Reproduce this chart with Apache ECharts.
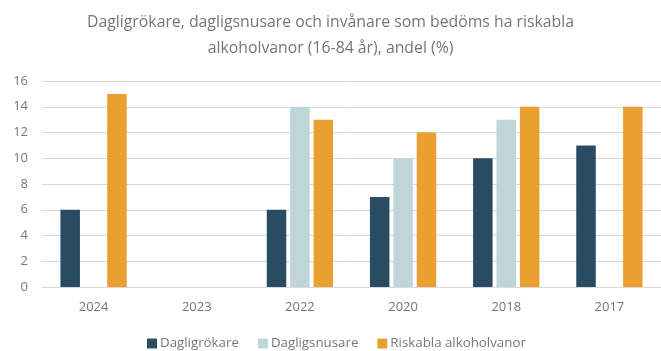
<!DOCTYPE html>
<html>
<head>
<meta charset="utf-8">
<script src="https://cdn.jsdelivr.net/npm/echarts@6/dist/echarts.min.js"></script>
<style>
  html, body { margin: 0; padding: 0; background: #fff; }
  #chart { width: 661px; height: 351px; }
</style>
</head>
<body>
<div id="chart"></div>
<script>
// Survey years and shares (%) per indicator
const years = ['2024', '2023', '2022', '2020', '2018', '2017'];
const dagligrokare = [6, null, 6, 7, 10, 11];
const dagligsnusare = [null, null, 14, 10, 13, null];
const riskablaAlkoholvanor = [15, null, 13, 12, 14, 14];
const yTicks = { min: 0, max: 16, step: 2 };

const FONT = 'Open Sans';
const GREY = '#767676';

const chart = echarts.init(document.getElementById('chart'), null, { renderer: 'canvas' });

function barSeries(name, data, color) {
  return {
    name: name,
    type: 'bar',
    data: data,
    barWidth: 19.5,
    barGap: '20%',
    itemStyle: { color: color },
    emphasis: { disabled: true }
  };
}

chart.setOption({
  animation: false,
  textStyle: { fontFamily: FONT },
  title: {
    text: 'Dagligrökare, dagligsnusare och invånare som bedöms ha riskabla\nalkoholvanor (16-84 år), andel (%)',
    left: 'center',
    top: 4,
    textStyle: { fontFamily: FONT, fontSize: 15.8, fontWeight: 'normal', color: GREY, lineHeight: 26 }
  },
  legend: {
    bottom: -4,
    left: 142,
    padding: [5, 5, 5, 5],
    itemWidth: 10,
    itemHeight: 10,
    itemGap: 19,
    icon: 'rect',
    textStyle: { fontFamily: FONT, fontSize: 13.3, color: GREY, padding: [0, 0, 0, -2] },
    data: ['Dagligrökare', 'Dagligsnusare', 'Riskabla alkoholvanor']
  },
  grid: { left: 42, right: -8, top: 81, bottom: 64, containLabel: false },
  xAxis: {
    type: 'category',
    data: years,
    axisLine: { lineStyle: { color: '#d9d9d9', width: 1 } },
    axisTick: { show: false },
    axisLabel: { fontFamily: FONT, fontSize: 13, color: GREY, margin: 14 }
  },
  yAxis: {
    type: 'value',
    min: yTicks.min,
    max: yTicks.max,
    interval: yTicks.step,
    axisLine: { show: false },
    axisTick: { show: false },
    splitLine: { lineStyle: { color: '#d9d9d9', width: 1 } },
    axisLabel: { fontFamily: FONT, fontSize: 13, color: GREY, margin: 14 }
  },
  series: [
    barSeries('Dagligrökare', dagligrokare, '#2a4c62'),
    barSeries('Dagligsnusare', dagligsnusare, '#bfd6d9'),
    barSeries('Riskabla alkoholvanor', riskablaAlkoholvanor, '#eaa030')
  ]
});
</script>
</body>
</html>
